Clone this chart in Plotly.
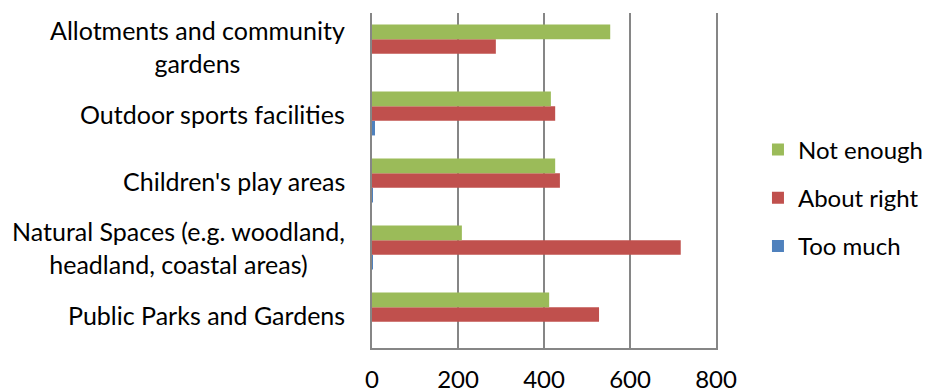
import plotly.graph_objects as go

# Categories listed bottom to top as they appear on the axis
categories = [
    "Public Parks and Gardens",
    "Natural Spaces (e.g. woodland,<br>headland, coastal areas)",
    "Children's play areas",
    "Outdoor sports facilities",
    "Allotments and community<br>gardens",
]
too_much = [0, 2, 2, 7, 0]
about_right = [528, 718, 437, 426, 288]
not_enough = [412, 209, 426, 416, 554]
x_ticks = [0, 200, 400, 600, 800]

FONT = "Lato, 'Open Sans', sans-serif"
FS = 25

fig = go.Figure()
series = [
    ("Too much", too_much, "#4F81BD", 3),
    ("About right", about_right, "#C0504D", 2),
    ("Not enough", not_enough, "#9BBB59", 1),
]
for name, vals, color, rank in series:
    fig.add_trace(go.Bar(
        y=categories, x=vals, name=name, orientation="h",
        marker=dict(color=color, line=dict(width=0)),
        legendgroup=name, legendrank=rank,
    ))

# Category labels: centred multi-line text, right-aligned to the plot edge
for cat in categories:
    fig.add_annotation(
        x=0, xref="paper", xanchor="right", xshift=-25,
        y=cat, yref="y", yanchor="middle",
        text=cat, showarrow=False, align="center",
        font=dict(family=FONT, size=FS, color="#000000"),
    )

fig.update_layout(
    width=928, height=392,
    margin=dict(l=372, r=212, t=13, b=44, autoexpand=False),
    paper_bgcolor="white", plot_bgcolor="white",
    barmode="group", bargap=0.345, bargroupgap=0,
    font=dict(family=FONT, size=FS, color="#000000"),
    showlegend=True,
    legend=dict(
        x=1.122, xanchor="left", y=0.448, yanchor="middle",
        traceorder="grouped", tracegroupgap=14,
        font=dict(family=FONT, size=24, color="#000000"),
        bgcolor="rgba(0,0,0,0)",
    ),
)
fig.update_xaxes(
    range=[0, 800], tickvals=x_ticks, ticktext=[str(v) for v in x_ticks],
    showgrid=True, gridcolor="#868686", gridwidth=2,
    showline=True, linecolor="#868686", linewidth=2,
    zeroline=False, ticks="", ticklabelstandoff=9,
    tickfont=dict(family=FONT, size=24, color="#000000"),
)
fig.update_yaxes(
    categoryorder="array", categoryarray=categories,
    showticklabels=False, showgrid=False,
    showline=True, mirror=True, linecolor="#868686", linewidth=2,
    ticks="", zeroline=False,
)

fig.write_html("out.html")
